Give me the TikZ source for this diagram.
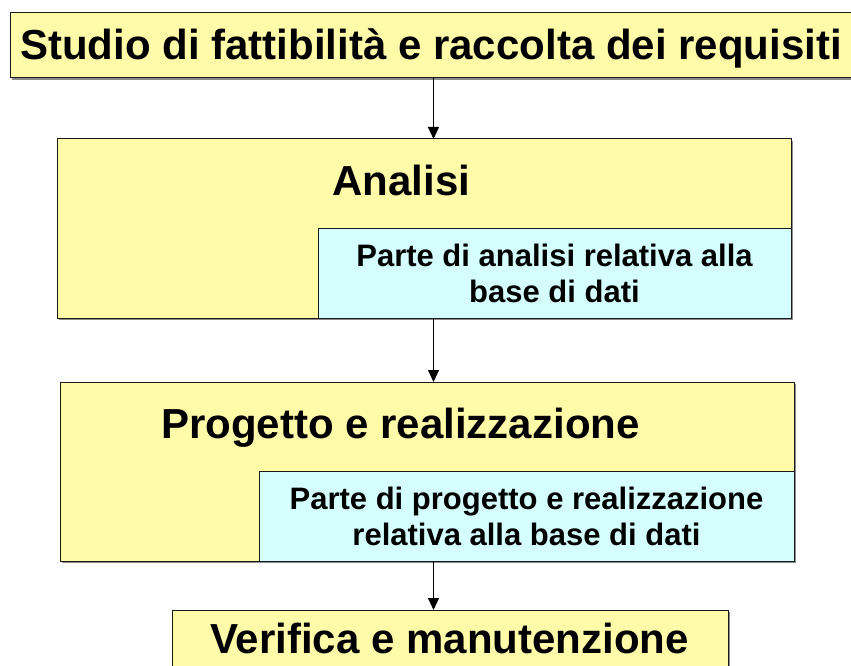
\documentclass[tikz,border=0pt]{standalone}
\usepackage{fontspec}
\setmainfont{Liberation Sans}
\usetikzlibrary{arrows.meta,shadows}
\definecolor{boxyellow}{HTML}{FFFBA8}
\definecolor{boxcyan}{HTML}{D5FFFF}
\definecolor{edgecol}{HTML}{1A1A1A}
\tikzset{
  panel/.style={draw=edgecol, line width=1pt, inner sep=0pt, outer sep=0pt, anchor=north west,
    drop shadow={shadow xshift=1.6pt, shadow yshift=-1.6pt, fill=black!45, opacity=1}},
  yellowbox/.style={panel, fill=boxyellow},
  cyanbox/.style={panel, fill=boxcyan, font=\bfseries\fontsize{31}{36}\selectfont, align=center},
  bigtitle/.style={font=\bfseries\fontsize{42}{48}\selectfont, inner sep=0pt, anchor=base},
  flow/.style={draw=black, line width=1pt, -{Triangle[length=12pt,width=11pt]}}
}
\begin{document}
\begin{tikzpicture}[x=1pt,y=-1pt]
\useasboundingbox (0,0) rectangle (851,666);
% top box
\node[yellowbox, minimum width=843pt, minimum height=65pt] (top) at (10,13) {};
\node[bigtitle] (toptxt) at (431,60) {Studio di fattibilità e raccolta dei requisiti};
% Analisi
\node[yellowbox, minimum width=734pt, minimum height=179pt] (ana) at (57,139) {};
\node[bigtitle] (anatxt) at (401.5,195) {Analisi};
\node[cyanbox, minimum width=473pt, minimum height=90pt] (anadb) at (318,228) {Parte di analisi relativa alla\\base di dati};
% Progetto
\node[yellowbox, minimum width=734pt, minimum height=179pt] (prog) at (60,382) {};
\node[bigtitle] (progtxt) at (400.5,438) {Progetto e realizzazione};
\node[cyanbox, minimum width=535pt, minimum height=90pt] (progdb) at (259,471) {Parte di progetto e realizzazione\\relativa alla base di dati};
% Verifica
\node[yellowbox, minimum width=556pt, minimum height=62pt] (ver) at (172,610) {};
\node[bigtitle] (vertxt) at (449.5,653) {Verifica e manutenzione};
% connectors
\coordinate (ax) at (433.5,0);
\draw[flow] (top.south -| ax) -- (ana.north -| ax);
\draw[flow] (anadb.south -| ax) -- (prog.north -| ax);
\draw[flow] (progdb.south -| ax) -- (ver.north -| ax);
\end{tikzpicture}
\end{document}
